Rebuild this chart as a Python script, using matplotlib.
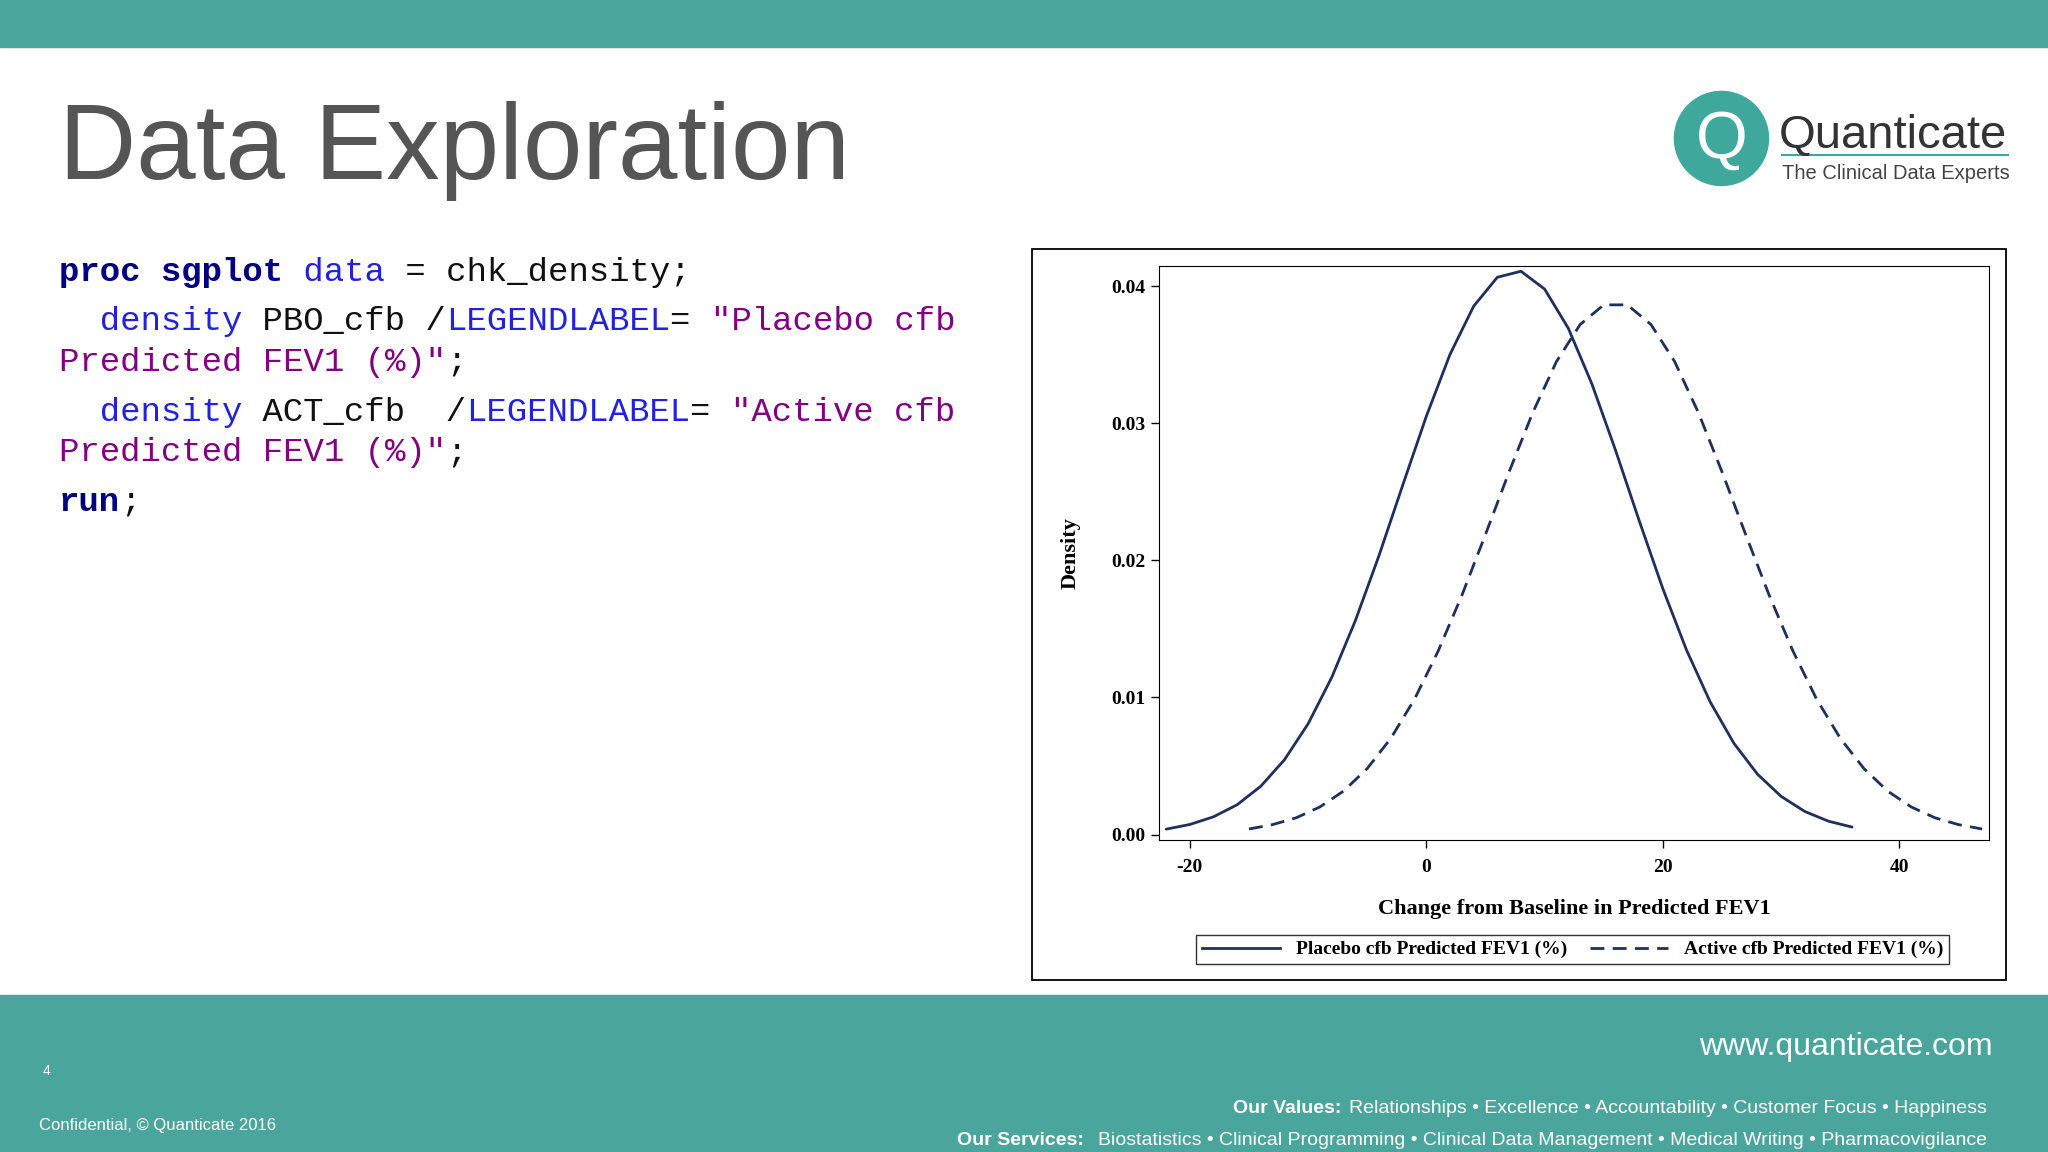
import matplotlib.pyplot as plt
from matplotlib.patches import Rectangle, Circle
from matplotlib.lines import Line2D

plt.rcParams["axes.unicode_minus"] = False

# density curves
pbo_x = list(range(-22, 37, 2))
pbo_y = [0.00040, 0.00074, 0.00130, 0.00218, 0.00353, 0.00546, 0.00808, 0.01147,
         0.01561, 0.02036, 0.02548, 0.03051, 0.03502, 0.03853, 0.04064, 0.04108,
         0.03978, 0.03693, 0.03286, 0.02802, 0.02289, 0.01793, 0.01346, 0.00968,
         0.00667, 0.00441, 0.00279, 0.00169, 0.00098, 0.00055]
act_x = list(range(-15, 48, 2))
act_y = [0.00041, 0.00073, 0.00123, 0.00202, 0.00318, 0.00482, 0.00703, 0.00988,
         0.01339, 0.01744, 0.02189, 0.02646, 0.03078, 0.03449, 0.03719, 0.03863,
         0.03863, 0.03719, 0.03449, 0.03078, 0.02646, 0.02189, 0.01744, 0.01339,
         0.00988, 0.00703, 0.00482, 0.00318, 0.00202, 0.00123, 0.00073, 0.00041]
x_ticks = [-20, 0, 20, 40]
y_ticks = [0.00, 0.01, 0.02, 0.03, 0.04]

W, H = 1568, 882
teal = "#4aa69d"
navy = "#1f2f5e"

fig = plt.figure(figsize=(20.48, 11.52), dpi=100)
bg = fig.add_axes([0, 0, 1, 1])
bg.set_xlim(0, W)
bg.set_ylim(H, 0)
bg.axis("off")

# bands
bg.add_patch(Rectangle((0, 0), W, 36, color=teal))
bg.add_patch(Rectangle((0, 762), W, 120, color=teal))
bg.add_patch(Rectangle((790, 191), 746, 559, fill=False, ec="black", lw=1.3))

bg.text(45, 137, "Data Exploration", fontsize=77, color="#555555",
        family="Liberation Sans", va="baseline")

# logo
bg.add_patch(Circle((1318, 106), 36, color="#3fa89c"))
bg.text(1318, 108, "Q", fontsize=48, color="white", ha="center", va="center",
        family="Liberation Sans")
bg.text(1362, 113, "Quanticate", fontsize=34, color="#333333", va="baseline",
        family="Liberation Sans")
bg.plot([1364, 1537], [119, 119], color="#3fa89c", lw=1.5)
bg.text(1364, 137, "The Clinical Data Experts", fontsize=14.5, color="#444444",
        va="baseline", family="Liberation Sans")

# code
mono = dict(family="Liberation Mono", fontsize=24.5, va="baseline")
kw, blue, purple, black = "#000080", "#2222dd", "#800080", "#111111"
lines = [
    (215, [("proc sgplot", kw, "bold"), (" data", blue, "normal"), (" = chk_density;", black, "normal")]),
    (253, [("  density", blue, "normal"), (" PBO_cfb /", black, "normal"),
           ("LEGENDLABEL", blue, "normal"), ("= ", black, "normal"), ('"Placebo cfb', purple, "normal")]),
    (284, [('Predicted FEV1 (%)"', purple, "normal"), (";", black, "normal")]),
    (322, [("  density", blue, "normal"), (" ACT_cfb  /", black, "normal"),
           ("LEGENDLABEL", blue, "normal"), ("= ", black, "normal"), ('"Active cfb', purple, "normal")]),
    (353, [('Predicted FEV1 (%)"', purple, "normal"), (";", black, "normal")]),
    (391, [("run", kw, "bold"), (";", black, "normal")]),
]
cw = 15.6
for y, parts in lines:
    col = 0
    for txt, c, wt in parts:
        bg.text(45 + col * cw, y, txt, color=c, fontweight=wt, **mono)
        col += len(txt)

# footer
foot = dict(color="white", family="Liberation Sans")
bg.text(1526, 808, "www.quanticate.com", fontsize=23, ha="right", **foot)
bg.text(33, 823, "4", fontsize=10, **foot)
bg.text(30, 865, "Confidential, © Quanticate 2016", fontsize=12, **foot)
bg.text(1521, 852, "Relationships • Excellence • Accountability • Customer Focus • Happiness",
        fontsize=14, ha="right", **foot)
bg.text(1521, 877, "Biostatistics • Clinical Programming • Clinical Data Management • Medical Writing • Pharmacovigilance",
        fontsize=14, ha="right", **foot)
bg.text(1027, 852, "Our Values:", fontsize=14, ha="right", fontweight="bold", **foot)
bg.text(830, 877, "Our Services:", fontsize=14, ha="right", fontweight="bold", **foot)

# chart
ax = fig.add_axes([887 / W, 1 - 643 / H, (1523 - 887) / W, (643 - 204) / H])
ax.plot(pbo_x, pbo_y, color=navy, lw=2, solid_capstyle="round", solid_joinstyle="round")
ax.plot(act_x, act_y, color=navy, lw=2, ls=(0, (5, 3)))
ax.set_xlim(-22.65, 47.6)
ax.set_ylim(-0.00038, 0.04143)
ax.set_xticks(x_ticks)
ax.set_yticks(y_ticks)
ax.set_yticklabels([f"{v:.2f}" for v in y_ticks])
serif = "Liberation Serif"
for lab in ax.get_xticklabels() + ax.get_yticklabels():
    lab.set_family(serif)
    lab.set_fontsize(14)
    lab.set_fontweight("bold")
ax.tick_params(length=6, width=1)
ax.tick_params(axis="x", pad=8)
ax.set_xlabel("Change from Baseline in Predicted FEV1", family=serif, fontsize=16,
              fontweight="bold", labelpad=16)
ax.set_ylabel("Density", family=serif, fontsize=16, fontweight="bold", labelpad=22)

handles = [Line2D([], [], color=navy, lw=2),
           Line2D([], [], color=navy, lw=2, ls=(0, (5, 3)))]
fig.legend(handles, ["Placebo cfb Predicted FEV1 (%)", "Active cfb Predicted FEV1 (%)"],
           loc="center", bbox_to_anchor=(1204 / W, 1 - 727 / H), ncol=2,
           prop={"family": serif, "size": 14, "weight": "bold"}, frameon=True,
           fancybox=False, edgecolor="black", handlelength=4, columnspacing=1.2,
           borderpad=0.3)

fig.savefig("out.png", dpi=100)
